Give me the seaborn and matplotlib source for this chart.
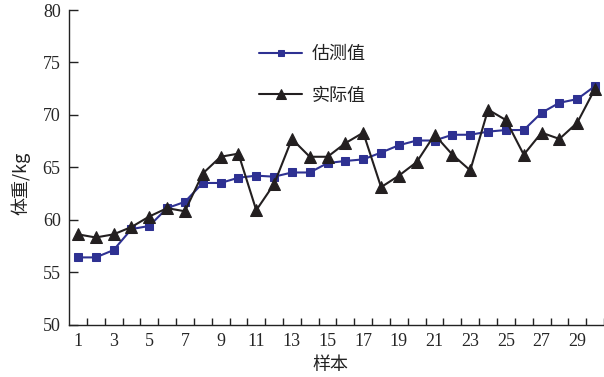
import numpy as np
import pandas as pd
import matplotlib
matplotlib.use("Agg")
import matplotlib.pyplot as plt
from matplotlib.ticker import FixedLocator
import seaborn as sns

# Sample index and body-weight series (kg)
samples = list(range(1, 31))
estimated = [56.4, 56.4, 57.1, 59.1, 59.4, 61.1, 61.7, 63.5, 63.5, 64.0,
             64.2, 64.1, 64.5, 64.5, 65.4, 65.6, 65.75, 66.4, 67.1, 67.55,
             67.55, 68.1, 68.1, 68.4, 68.55, 68.55, 70.2, 71.15, 71.5, 72.75]
actual = [58.6, 58.3, 58.6, 59.3, 60.3, 61.1, 60.8, 64.4, 66.0, 66.3,
          60.9, 63.4, 67.7, 66.0, 66.0, 67.3, 68.3, 63.1, 64.2, 65.5,
          68.1, 66.2, 64.7, 70.5, 69.5, 66.2, 68.3, 67.7, 69.25, 72.5]
series_names = ["估测值", "实际值"]
x_ticklabels = list(range(1, 30, 2))
y_ticks = [50, 55, 60, 65, 70, 75, 80]

sns.set_theme(style="ticks")
plt.rcParams["font.family"] = ["Noto Sans CJK SC", "DejaVu Sans"]

df = pd.DataFrame({"样本": samples, series_names[0]: estimated, series_names[1]: actual})

fig = plt.figure(figsize=(6.04, 3.77), dpi=100)
ax = fig.add_axes([69 / 604, 1 - 324.5 / 377, 535 / 604, 314.5 / 377])

blue = "#2E3192"
dark = "#231F20"
sns.lineplot(data=df, x="样本", y=series_names[0], ax=ax, color=blue, lw=1.5,
             marker="s", markersize=6, markeredgecolor=blue, label=series_names[0])
sns.lineplot(data=df, x="样本", y=series_names[1], ax=ax, color=dark, lw=1.5,
             marker="^", markersize=8.5, markeredgecolor=dark, label=series_names[1])

ax.set_xlim(0.5, 30.5)
ax.set_ylim(50, 80)
sns.despine(ax=ax)
for sp in ("left", "bottom"):
    ax.spines[sp].set_linewidth(1.0)
    ax.spines[sp].set_color("#222222")

ax.set_xticks(x_ticklabels)
ax.set_xticklabels([str(v) for v in x_ticklabels], family=["Liberation Serif"], fontsize=13)
ax.xaxis.set_minor_locator(FixedLocator(np.arange(1.5, 31, 1.0)))
ax.tick_params(axis="x", which="major", length=0, pad=6)
ax.tick_params(axis="x", which="minor", direction="in", length=5, width=1.0, color="#222222")
ax.set_yticks(y_ticks)
ax.set_yticklabels([str(v) for v in y_ticks], family=["Liberation Serif"], fontsize=13)
ax.tick_params(axis="y", which="major", direction="in", length=6.5, width=1.0,
               color="#222222", pad=6)

ax.set_xlabel("样本", fontsize=13, color="#222222")
ax.set_ylabel("体重/kg", fontsize=13, color="#222222")
ax.xaxis.set_label_coords(0.488, -0.1)
ax.yaxis.set_label_coords(-0.072, 0.45)

leg = ax.legend(loc="upper left", bbox_to_anchor=(0.355, 0.888), frameon=False,
                fontsize=13, handlelength=2.4, handletextpad=0.5, labelspacing=1.3,
                borderpad=0, borderaxespad=0, markerscale=0.8)
for t in leg.get_texts():
    t.set_color("#222222")

fig.savefig("out.png", dpi=100)
